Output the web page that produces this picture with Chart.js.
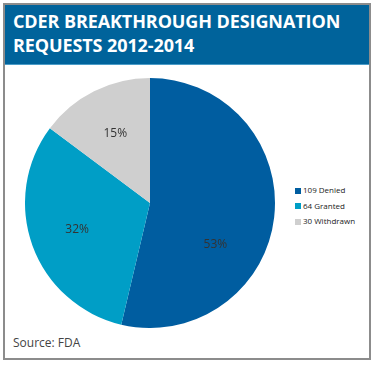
<!DOCTYPE html>
<html>
<head>
<meta charset="utf-8">
<script src="https://cdn.jsdelivr.net/npm/chart.js@4"></script>
<style>
  body { margin: 0; background: #fff; font-family: "Open Sans", sans-serif; }
  #box { position: absolute; left: 3px; top: 3px; width: 364px; height: 353px; border: 2px solid #8c8c8c; background: #fff; }
  #head { position: absolute; left: 0; top: 0; width: 364px; height: 59px; background: #00639b; border-bottom: 1px solid #4a9cc8; }
  #title { position: absolute; left: 8px; top: 4px; color: #fff; font-weight: bold; font-size: 18px; line-height: 24px; letter-spacing: -0.1px; white-space: nowrap; }
  #pie { position: absolute; left: 20px; top: 73px; width: 250px; height: 250px; }
  #legend { position: absolute; left: 290px; top: 177px; font-size: 8px; color: #222; }
  #legend div { height: 15.5px; line-height: 15.5px; white-space: nowrap; }
  #legend span { display: inline-block; width: 6px; height: 6px; margin-right: 2px; vertical-align: -0.5px; }
  #source { position: absolute; left: 8px; top: 329px; font-size: 12px; color: #444; }
</style>
</head>
<body>
<div id="box">
  <div id="head"><div id="title">CDER BREAKTHROUGH DESIGNATION<br>REQUESTS 2012-2014</div></div>
  <div id="pie"><canvas id="chart" width="250" height="250"></canvas></div>
  <div id="legend"></div>
  <div id="source">Source: FDA</div>
</div>
<script>
const labels = ["109 Denied", "64 Granted", "30 Withdrawn"];
const requests = [109, 64, 30];
const percents = ["53%", "32%", "15%"];
const colors = ["#005da0", "#009ec6", "#cfcfcf"];

const legend = document.getElementById("legend");
labels.forEach((l, i) => {
  const row = document.createElement("div");
  row.innerHTML = '<span style="background:' + colors[i] + '"></span>' + l;
  legend.appendChild(row);
});

// percent text inside each slice
const pctLabels = {
  id: "pctLabels",
  afterDatasetsDraw(chart) {
    const ctx = chart.ctx;
    const meta = chart.getDatasetMeta(0);
    ctx.save();
    ctx.font = "12px 'Open Sans'";
    ctx.fillStyle = "#333";
    ctx.textAlign = "center";
    ctx.textBaseline = "middle";
    meta.data.forEach((arc, i) => {
      let mid = (arc.startAngle + arc.endAngle) / 2;
      if (i === 0) mid += 0.45; // big slice label sits lower in the original
      const r = arc.outerRadius * 0.62;
      ctx.fillText(percents[i], arc.x + Math.cos(mid) * r, arc.y + Math.sin(mid) * r);
    });
    ctx.restore();
  }
};

new Chart(document.getElementById("chart").getContext("2d"), {
  type: "pie",
  data: {
    labels: labels,
    datasets: [{
      data: requests,
      backgroundColor: colors,
      borderWidth: 0
    }]
  },
  options: {
    responsive: false,
    animation: false,
    plugins: { legend: { display: false }, tooltip: { enabled: false } }
  },
  plugins: [pctLabels]
});
</script>
</body>
</html>
